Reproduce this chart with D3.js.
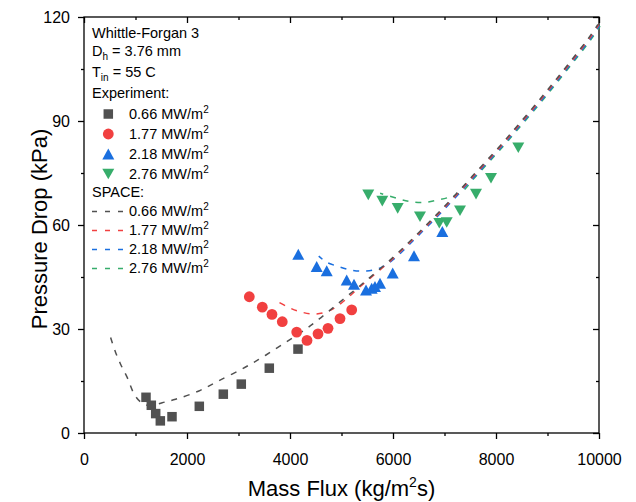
<!DOCTYPE html>
<html>
<head>
<meta charset="utf-8">
<script src="https://cdn.jsdelivr.net/npm/d3@7"></script>
<style>
  body { margin: 0; background: #fff; }
  svg { font-family: "Liberation Sans", Arial, sans-serif; }
</style>
</head>
<body>
<div id="chart"></div>
<script>
// experiment points, mass flux (kg/m2s) vs pressure drop (kPa)
var exp066G = [1204, 1307, 1392, 1482, 1709, 2239, 2705, 3054, 3598, 4155];
var exp066P = [10.3, 8.0, 5.6, 3.5, 4.7, 7.7, 11.2, 14.1, 18.7, 24.2];

var exp177G = [3210, 3462, 3650, 3850, 4130, 4330, 4544, 4738, 4971, 5198];
var exp177P = [39.3, 36.3, 34.2, 32.1, 29.1, 26.7, 28.6, 30.2, 33.0, 35.5];

var exp218G = [4161, 4518, 4713, 5101, 5243, 5476, 5586, 5650, 5748, 5994, 6408, 6958];
var exp218P = [51.5, 48.0, 46.8, 44.1, 42.9, 41.2, 41.7, 42.2, 43.2, 46.1, 51.1, 58.1];

var exp276G = [5520, 5792, 6091, 6524, 6899, 7043, 7301, 7612, 7903, 8433];
var exp276P = [68.7, 66.9, 64.8, 62.4, 60.5, 60.7, 64.1, 68.9, 73.5, 82.3];

// SPACE curves: own low-flux part of each, then the common high-flux branch
var space066G = [538, 635, 732, 860, 1010, 1150, 1320, 1540, 1800, 2252, 2608, 3159, 3548, 3936, 4324, 4583, 4938];
var space066P = [27.3, 23.0, 19.6, 15.8, 10.6, 8.4, 7.6, 8.5, 9.5, 11.9, 14.6, 18.8, 22.2, 25.9, 29.7, 32.6, 36.9];

var space177G = [3792, 4000, 4227, 4485, 4744, 4971];
var space177P = [37.6, 36.0, 34.8, 34.2, 35.0, 37.0];

var space218G = [4550, 4699, 4951, 5217, 5476, 5748];
var space218P = [51.1, 49.4, 48.0, 47.0, 46.8, 47.7];

var space276G = [5728, 6039, 6297, 6557, 6835, 7107, 7301];
var space276P = [69.4, 68.0, 67.0, 66.7, 67.4, 68.4, 69.6];

var sharedG = [5392, 6006, 6427, 6816, 7171, 7559, 8111, 8466, 8821, 9146, 9501, 9825, 10000];
var sharedP = [42.4, 50.2, 56.2, 62.0, 67.5, 73.8, 82.8, 88.9, 95.1, 101.0, 107.6, 113.8, 117.6];

var fluxLabels = ["0.66", "1.77", "2.18", "2.76"];
var colors = ["#515151", "#F14040", "#1A6FDF", "#37AD6B"];
var xTicks = [0, 2000, 4000, 6000, 8000, 10000];
var xMinor = [1000, 3000, 5000, 7000, 9000];
var yTicks = [0, 30, 60, 90, 120];
var yMinor = [15, 45, 75, 105];

function zip(G, P) {
  return G.map(function(g, i) { return {g: g, p: P[i]}; });
}

var expSets = [zip(exp066G, exp066P), zip(exp177G, exp177P), zip(exp218G, exp218P), zip(exp276G, exp276P)];
var ownParts = [zip(space066G, space066P), zip(space177G, space177P), zip(space218G, space218P), zip(space276G, space276P)];
var shared = zip(sharedG, sharedP);
var spaceSets = ownParts.map(function(own) {
  var last = own[own.length - 1].g;
  return own.concat(shared.filter(function(d) { return d.g > last; }));
});

// set the dimensions and margins of the graph
var margin = {top: 17, right: 37, bottom: 69, left: 84},
    width = 636 - margin.left - margin.right,
    height = 502 - margin.top - margin.bottom;

var root = d3.select("#chart")
  .append("svg")
    .attr("width", 636)
    .attr("height", 502);

var svg = root.append("g")
    .attr("transform", "translate(" + margin.left + "," + margin.top + ")");

var x = d3.scaleLinear().domain([0, 10000]).range([0, width]);
var y = d3.scaleLinear().domain([0, 120]).range([height, 0]);
var fmt = d3.format("d");

function styleAxis(g) {
  g.select(".domain").remove();
  g.attr("font-family", null).attr("font-size", 16);
  g.selectAll("line").attr("stroke", "#000").attr("stroke-width", 1.3);
  g.selectAll("text").attr("fill", "#000");
}

// bottom and left: ticks outward with labels
svg.append("g").attr("transform", "translate(0," + height + ")")
  .call(d3.axisBottom(x).tickValues(xTicks).tickFormat(fmt).tickSize(6).tickSizeOuter(0).tickPadding(15))
  .call(styleAxis);
svg.append("g").attr("transform", "translate(0," + height + ")")
  .call(d3.axisBottom(x).tickValues(xMinor).tickSize(3).tickSizeOuter(0).tickFormat(""))
  .call(styleAxis);
svg.append("g")
  .call(d3.axisLeft(y).tickValues(yTicks).tickFormat(fmt).tickSize(6).tickSizeOuter(0).tickPadding(8))
  .call(styleAxis);
svg.append("g")
  .call(d3.axisLeft(y).tickValues(yMinor).tickSize(3).tickSizeOuter(0).tickFormat(""))
  .call(styleAxis);

// top and right: mirror ticks pointing in
svg.append("g")
  .call(d3.axisTop(x).tickValues(xTicks).tickSize(-6).tickSizeOuter(0).tickFormat(""))
  .call(styleAxis);
svg.append("g")
  .call(d3.axisTop(x).tickValues(xMinor).tickSize(-3).tickSizeOuter(0).tickFormat(""))
  .call(styleAxis);
svg.append("g").attr("transform", "translate(" + width + ",0)")
  .call(d3.axisRight(y).tickValues(yTicks).tickSize(-6).tickSizeOuter(0).tickFormat(""))
  .call(styleAxis);
svg.append("g").attr("transform", "translate(" + width + ",0)")
  .call(d3.axisRight(y).tickValues(yMinor).tickSize(-3).tickSizeOuter(0).tickFormat(""))
  .call(styleAxis);

svg.append("rect")
  .attr("width", width).attr("height", height)
  .attr("fill", "none").attr("stroke", "#000").attr("stroke-width", 1.3);

// axis titles
var xTitle = root.append("text")
  .attr("x", margin.left + width / 2).attr("y", 496)
  .attr("text-anchor", "middle").attr("font-size", 22);
xTitle.append("tspan").text("Mass Flux (kg/m");
xTitle.append("tspan").attr("font-size", 14).attr("dy", -9).text("2");
xTitle.append("tspan").attr("dy", 9).text("s)");

root.append("text")
  .attr("transform", "translate(47,229) rotate(-90)")
  .attr("text-anchor", "middle").attr("font-size", 22)
  .text("Pressure Drop (kPa)");

// SPACE dashed lines, dash phases lined up on the common branch
var line = d3.line()
  .x(function(d) { return x(d.g); })
  .y(function(d) { return y(d.p); })
  .curve(d3.curveCatmullRom.alpha(0.5));

var nudge = [[-1.1, -0.8], [-0.4, -0.3], [0.4, 0.3], [1.1, 0.8]];
var lineGroup = svg.append("g");
var paths = [];
for (var i = 3; i >= 0; i--) {
  paths[i] = lineGroup.append("path")
    .datum(spaceSets[i])
    .attr("d", line)
    .attr("fill", "none")
    .attr("stroke", colors[i])
    .attr("stroke-width", 1.5)
    .attr("stroke-dasharray", "6,7")
    .attr("transform", "translate(" + nudge[i][0] + "," + nudge[i][1] + ")");
}
var refLen = paths[0].node().getTotalLength();
paths.forEach(function(p) {
  p.attr("stroke-dashoffset", refLen - p.node().getTotalLength());
});
// keep the grey line on top like the reference
paths[0].raise();

// marker shapes
function drawMarker(sel, k) {
  if (k === 0) {
    sel.append("rect").attr("x", -4.75).attr("y", -4.75)
      .attr("width", 9.5).attr("height", 9.5).attr("fill", colors[0]);
  } else if (k === 1) {
    sel.append("circle").attr("r", 5.4).attr("fill", colors[1]);
  } else if (k === 2) {
    sel.append("path").attr("d", "M0,-5.6L6,5.4L-6,5.4Z").attr("fill", colors[2]);
  } else {
    sel.append("path").attr("d", "M0,5.3L6,-5.3L-6,-5.3Z").attr("fill", colors[3]);
  }
}

var markGroup = svg.append("g");
expSets.forEach(function(set, k) {
  markGroup.append("g").selectAll("g")
    .data(set)
    .join("g")
      .attr("transform", function(d) { return "translate(" + x(d.g) + "," + y(d.p) + ")"; })
      .each(function() { drawMarker(d3.select(this), k); });
});

// legend block
var leg = root.append("g").attr("font-size", 14.5).attr("fill", "#000");
leg.append("text").attr("x", 92).attr("y", 38).text("Whittle-Forgan 3");
var dh = leg.append("text").attr("x", 92).attr("y", 56);
dh.append("tspan").text("D");
dh.append("tspan").attr("font-size", 10).attr("dy", 4).text("h");
dh.append("tspan").attr("dy", -4).text(" = 3.76 mm");
var tin = leg.append("text").attr("x", 92).attr("y", 77);
tin.append("tspan").text("T");
tin.append("tspan").attr("font-size", 10).attr("dy", 4).text("in");
tin.append("tspan").attr("dy", -4).text(" = 55 C");
leg.append("text").attr("x", 92).attr("y", 98).text("Experiment:");
leg.append("text").attr("x", 92).attr("y", 197).text("SPACE:");

function fluxText(yPos, label) {
  var t = leg.append("text").attr("x", 129).attr("y", yPos);
  t.append("tspan").text(label + " MW/m");
  t.append("tspan").attr("font-size", 10).attr("dy", -6).text("2");
}

var expRows = [119, 139, 159, 179];
var spaceRows = [216, 235, 254, 273];
fluxLabels.forEach(function(lab, k) {
  var m = leg.append("g").attr("transform", "translate(108.3," + (expRows[k] - 5) + ")");
  drawMarker(m, k);
  fluxText(expRows[k], lab);
  leg.append("line")
    .attr("x1", 92).attr("x2", 124)
    .attr("y1", spaceRows[k] - 4.5).attr("y2", spaceRows[k] - 4.5)
    .attr("stroke", colors[k]).attr("stroke-width", 1.5)
    .attr("stroke-dasharray", "5,8");
  fluxText(spaceRows[k], lab);
});
</script>
</body>
</html>
